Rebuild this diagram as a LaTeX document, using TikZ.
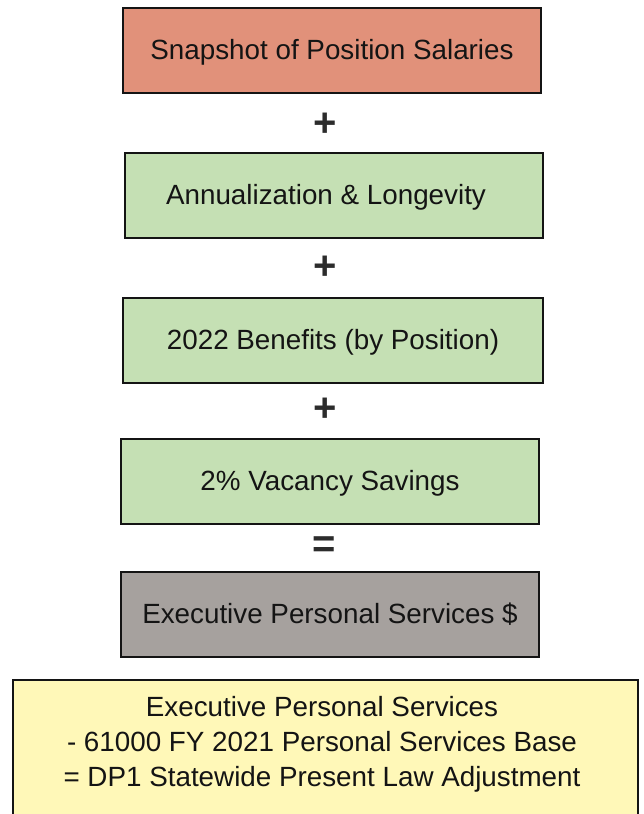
\documentclass[tikz,border=0pt]{standalone}
\usepackage{fontspec}
\setmainfont{Liberation Sans}
\definecolor{salmon}{RGB}{225,145,122}
\definecolor{sage}{RGB}{197,224,180}
\definecolor{stone}{RGB}{166,161,158}
\definecolor{cream}{RGB}{255,248,184}
\definecolor{ink}{RGB}{20,20,20}
\begin{document}
\begin{tikzpicture}[x=1pt,y=-1pt]
\tikzstyle{every node}=[text=ink,font=\fontsize{27.8}{35}\selectfont,inner sep=0pt]
\tikzstyle{stepbox}=[draw=ink,line width=2pt,minimum width=418pt,minimum height=85pt,text depth=3pt]
\tikzstyle{sign}=[font=\fontsize{40}{40}\selectfont\bfseries,text=ink!90]
\useasboundingbox (0,0) rectangle (644,814);

\draw (332,50.5)  node (snap) [stepbox,fill=salmon] {Snapshot of Position Salaries};
\draw (325,124.5)  node (p1) [sign] {+};
\draw (334,195.5)  node (annual) [stepbox,fill=sage] {\hspace*{-16pt}Annualization \& Longevity};
\draw (325,268)  node (p2) [sign] {+};
\draw (333,340.5)  node (benefit) [stepbox,minimum width=420pt,fill=sage] {2022 Benefits (by Position)};
\draw (325,410)  node (p3) [sign] {+};
\draw (330,481.5)  node (vacancy) [stepbox,fill=sage] {2\% Vacancy Savings};
\draw (324,547)  node (eq) [sign] {=};
\draw (330,614.5)  node (exec) [stepbox,fill=stone] {Executive Personal Services \$};

% result box runs past the lower edge
\draw [draw=ink,line width=2pt,fill=cream] (13,680) rectangle (638,840);
\draw (322,744.5)  node (result) [align=center] {Executive Personal Services\\- 61000 FY 2021 Personal Services Base\\= DP1 Statewide Present Law Adjustment};
\end{tikzpicture}
\end{document}
